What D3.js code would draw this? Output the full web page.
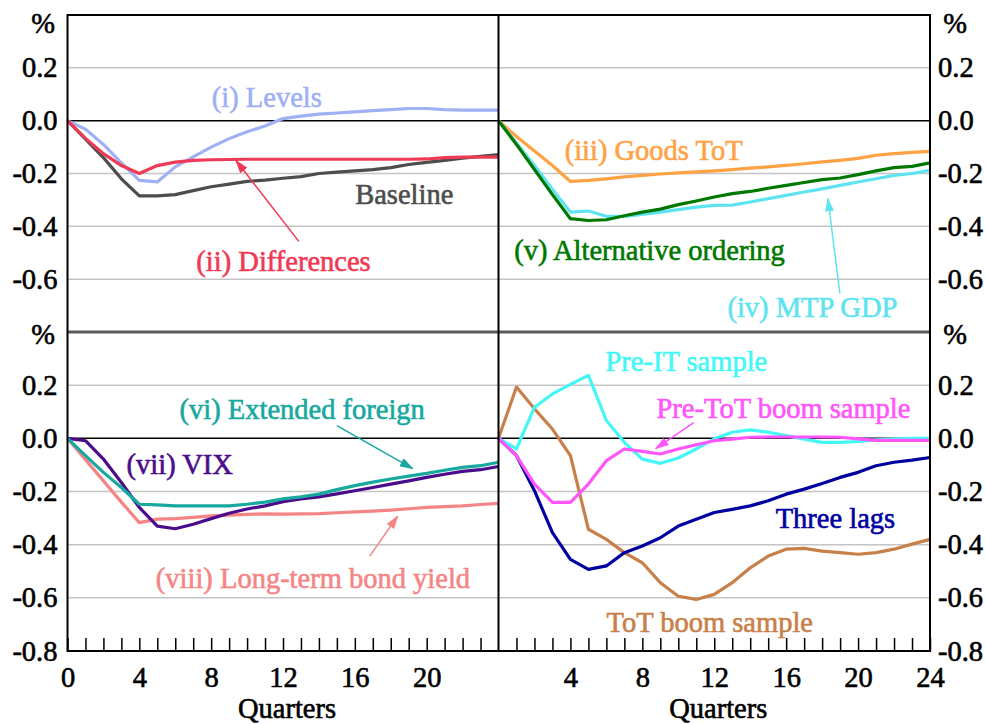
<!DOCTYPE html>
<meta charset="utf-8">
<style>
 body {
     margin: 0;
     background: #fff;
 }
 text {
     font-family: 'Liberation Serif', 'Times New Roman', serif;
     stroke-width: 0.6px;
     paint-order: stroke;
 }
</style>
<body>
<script src="https://cdn.jsdelivr.net/npm/d3@7"></script>
<script>

 // quarters after the shock
 var quarters = [0, 1, 2, 3, 4, 5, 6, 7, 8, 9, 10, 11, 12, 13, 14, 15, 16, 17, 18, 19, 20, 21, 22, 23, 24];

 // top left panel
 var baseline    = [0, -0.07, -0.14, -0.22, -0.285, -0.285, -0.28, -0.265, -0.25, -0.24, -0.23, -0.225, -0.218, -0.212, -0.2, -0.195, -0.19, -0.185, -0.178, -0.166, -0.158, -0.15, -0.142, -0.135, -0.128];
 var levels      = [0, -0.032, -0.09, -0.16, -0.226, -0.232, -0.175, -0.137, -0.1, -0.068, -0.042, -0.02, 0.008, 0.017, 0.025, 0.029, 0.033, 0.038, 0.042, 0.046, 0.046, 0.042, 0.04, 0.04, 0.04];
 var differences = [0, -0.067, -0.125, -0.17, -0.2, -0.17, -0.157, -0.15, -0.148, -0.147, -0.146, -0.146, -0.146, -0.146, -0.146, -0.146, -0.146, -0.146, -0.146, -0.146, -0.145, -0.14, -0.138, -0.138, -0.138];

 // top right panel
 var goodsTot    = [0, -0.06, -0.115, -0.17, -0.23, -0.226, -0.22, -0.213, -0.207, -0.202, -0.198, -0.194, -0.19, -0.185, -0.18, -0.175, -0.169, -0.163, -0.156, -0.15, -0.143, -0.131, -0.125, -0.12, -0.116];
 var mtpGdp      = [0, -0.085, -0.17, -0.26, -0.346, -0.342, -0.362, -0.362, -0.355, -0.346, -0.337, -0.327, -0.321, -0.32, -0.308, -0.295, -0.283, -0.27, -0.258, -0.245, -0.232, -0.22, -0.207, -0.2, -0.188];
 var altOrdering = [0, -0.09, -0.185, -0.28, -0.371, -0.378, -0.375, -0.36, -0.346, -0.335, -0.318, -0.304, -0.289, -0.276, -0.268, -0.256, -0.245, -0.234, -0.223, -0.217, -0.204, -0.19, -0.178, -0.173, -0.16];

 // bottom left panel
 var extForeign  = [0, -0.065, -0.128, -0.185, -0.248, -0.25, -0.254, -0.254, -0.254, -0.254, -0.248, -0.24, -0.228, -0.22, -0.21, -0.193, -0.178, -0.165, -0.153, -0.142, -0.132, -0.12, -0.109, -0.103, -0.09];
 var vix         = [0, -0.009, -0.078, -0.166, -0.26, -0.33, -0.34, -0.323, -0.302, -0.282, -0.266, -0.254, -0.238, -0.228, -0.22, -0.209, -0.197, -0.185, -0.172, -0.16, -0.147, -0.135, -0.124, -0.118, -0.106];
 var bondYield   = [0, -0.08, -0.16, -0.24, -0.317, -0.304, -0.302, -0.297, -0.292, -0.289, -0.286, -0.284, -0.285, -0.284, -0.283, -0.28, -0.277, -0.274, -0.27, -0.265, -0.26, -0.257, -0.254, -0.249, -0.245];

 // bottom right panel
 var preIT       = [0, -0.04, 0.117, 0.167, 0.203, 0.237, 0.067, -0.015, -0.078, -0.094, -0.074, -0.04, -0.002, 0.023, 0.032, 0.023, 0.01, -0.003, -0.015, -0.015, -0.012, -0.006, -0.002, 0, 0];
 var preTotBoom  = [0, -0.065, -0.172, -0.241, -0.241, -0.172, -0.084, -0.04, -0.049, -0.059, -0.04, -0.024, -0.009, -0.003, 0.004, 0.005, 0.005, 0.005, 0.005, 0.004, -0.002, -0.008, -0.008, -0.008, -0.008];
 var threeLags   = [0, -0.065, -0.197, -0.355, -0.455, -0.493, -0.48, -0.43, -0.405, -0.374, -0.33, -0.304, -0.279, -0.267, -0.254, -0.235, -0.21, -0.191, -0.17, -0.147, -0.128, -0.103, -0.09, -0.082, -0.072];
 var totBoom     = [0, 0.193, 0.111, 0.035, -0.065, -0.342, -0.38, -0.43, -0.468, -0.543, -0.594, -0.606, -0.587, -0.543, -0.487, -0.443, -0.417, -0.414, -0.424, -0.43, -0.436, -0.43, -0.417, -0.398, -0.38];

 var topTicks = [0.2, 0, -0.2, -0.4, -0.6];
 var bottomTicks = [0.2, 0, -0.2, -0.4, -0.6, -0.8];
 var gridValues = [0.2, -0.2, -0.4, -0.6];

 var fontSize = "28.5px";
 var fontFamily = "'Liberation Serif', 'Times New Roman', serif";
 var plotLeft = 67.5, plotMid = 498.5, plotRight = 930,
     plotTop = 15, plotSep = 332, plotBottom = 651;

 var svg = d3.select("body").append("svg")
             .attr("width", 985)
             .attr("height", 724)
             .attr("font-family", fontFamily);

 var xLeft = d3.scaleLinear().domain([0, 24]).range([plotLeft, plotMid]);
 var xRight = d3.scaleLinear().domain([0, 24]).range([plotMid, plotRight]);
 var yTop = d3.scaleLinear().domain([-0.8, 0.4]).range([plotSep, plotTop]);
 var yBottom = d3.scaleLinear().domain([-0.8, 0.4]).range([plotBottom, plotSep]);

 var panels = [
     {x: xLeft, y: yTop, series: [
         {data: baseline, color: "#4d4d4d"},
         {data: levels, color: "#9fb0f4"},
         {data: differences, color: "#ef3a55"}]},
     {x: xRight, y: yTop, series: [
         {data: goodsTot, color: "#ffa244"},
         {data: mtpGdp, color: "#5ee4f0"},
         {data: altOrdering, color: "#007800"}]},
     {x: xLeft, y: yBottom, series: [
         {data: bondYield, color: "#f58585"},
         {data: vix, color: "#4b0c8c"},
         {data: extForeign, color: "#17a8a0"}]},
     {x: xRight, y: yBottom, series: [
         {data: totBoom, color: "#c8804a"},
         {data: threeLags, color: "#0000a0"},
         {data: preIT, color: "#44f6f6"},
         {data: preTotBoom, color: "#ff55fa"}]}
 ];

 // gridlines and zero lines
 panels.forEach(function(p) {
     var x0 = p.x.range()[0], x1 = p.x.range()[1];
     svg.append("g").selectAll("line")
        .data(gridValues)
        .enter().append("line")
        .attr("x1", x0).attr("x2", x1)
        .attr("y1", d => p.y(d)).attr("y2", d => p.y(d))
        .attr("stroke", "#c4c4c4")
        .attr("stroke-width", 1.5);
     svg.append("line")
        .attr("x1", x0).attr("x2", x1)
        .attr("y1", p.y(0)).attr("y2", p.y(0))
        .attr("stroke", "#000")
        .attr("stroke-width", 1.5);
 });

 // minor ticks + quarter labels on the bottom panels
 var axL = svg.append("g")
              .attr("transform", "translate(0," + plotBottom + ")")
              .call(d3.axisBottom(xLeft)
                      .tickValues(quarters.slice(0, 24))
                      .tickSizeInner(-13).tickSizeOuter(0).tickPadding(16)
                      .tickFormat(d => d % 4 == 0 ? d : ""));
 var axR = svg.append("g")
              .attr("transform", "translate(0," + plotBottom + ")")
              .call(d3.axisBottom(xRight)
                      .tickValues(quarters.slice(1))
                      .tickSizeInner(-13).tickSizeOuter(0).tickPadding(16)
                      .tickFormat(d => d % 4 == 0 ? d : ""));
 [axL, axR].forEach(function(g) {
     g.select(".domain").remove();
     g.selectAll(".tick line").attr("stroke", "#000").attr("stroke-width", 1.5);
     g.selectAll("text").attr("fill", "#000").attr("stroke", "#000");
     g.attr("font-family", fontFamily)
      .attr("font-size", fontSize);
 });

 // y axes, both sides
 function yAxis(scale, ticks, side) {
     var ax = side == "left" ? d3.axisLeft(scale) : d3.axisRight(scale);
     var g = svg.append("g")
                .attr("transform", "translate(" + (side == "left" ? plotLeft : plotRight) + ",0)")
                .call(ax.tickValues(ticks).tickSize(0)
                        .tickPadding(side == "left" ? 10 : 8)
                        .tickFormat(d => d.toFixed(1)));
     g.select(".domain").remove();
     g.selectAll("text").attr("fill", "#000").attr("stroke", "#000");
     g.attr("font-family", fontFamily)
      .attr("font-size", fontSize);
 }
 yAxis(yTop, topTicks, "left");
 yAxis(yTop, topTicks, "right");
 yAxis(yBottom, bottomTicks, "left");
 yAxis(yBottom, bottomTicks, "right");

 // % units
 [[43, 33], [955, 33], [43, 344], [955, 344]].forEach(function(p) {
     svg.append("text")
        .attr("x", p[0]).attr("y", p[1])
        .attr("text-anchor", "middle")
        .attr("font-size", fontSize)
        .attr("stroke", "#000")
        .text("%");
 });

 // Quarters titles
 [(plotLeft + plotMid) / 2 + 4, (plotMid + plotRight) / 2 + 4].forEach(function(cx) {
     svg.append("text")
        .attr("x", cx).attr("y", 718)
        .attr("text-anchor", "middle")
        .attr("font-size", fontSize)
        .attr("stroke", "#000")
        .text("Quarters");
 });

 // the lines
 panels.forEach(function(p) {
     var line = d3.line()
                  .x((d, i) => p.x(quarters[i]))
                  .y(d => p.y(d));
     p.series.forEach(function(s) {
         svg.append("path")
            .datum(s.data)
            .attr("fill", "none")
            .attr("stroke", s.color)
            .attr("stroke-width", 3.2)
            .attr("stroke-linejoin", "round")
            .attr("d", line);
     });
 });

 // frame
 svg.append("line")
    .attr("x1", plotLeft).attr("x2", plotRight).attr("y1", plotSep).attr("y2", plotSep)
    .attr("stroke", "#5a5a5a").attr("stroke-width", 3);
 svg.append("rect")
    .attr("x", plotLeft).attr("y", plotTop)
    .attr("width", plotRight - plotLeft).attr("height", plotBottom - plotTop)
    .attr("fill", "none")
    .attr("stroke", "#000")
    .attr("stroke-width", 2);
 svg.append("line")
    .attr("x1", plotMid).attr("x2", plotMid).attr("y1", plotTop).attr("y2", plotBottom)
    .attr("stroke", "#000").attr("stroke-width", 2);

 // series labels [text, colour, panel, quarter, value]
 var labels = [
     ["(i) Levels", "#9fb0f4", 0, 11.1, 0.051],
     ["Baseline", "#4d4d4d", 0, 18.75, -0.317],
     ["(ii) Differences", "#ef3a55", 0, 12.03, -0.568],
     ["(iii) Goods ToT", "#ffa244", 1, 8.63, -0.15],
     ["(v) Alternative ordering", "#007800", 1, 8.4, -0.529],
     ["(iv) MTP GDP", "#5ee4f0", 1, 17.46, -0.745],
     ["(vi) Extended foreign", "#17a8a0", 2, 13.07, 0.073],
     ["(vii) VIX", "#4b0c8c", 2, 6.25, -0.134],
     ["(viii) Long-term bond yield", "#f58585", 2, 13.67, -0.562],
     ["Pre-IT sample", "#44f6f6", 3, 10.45, 0.255],
     ["Pre-ToT boom sample", "#ff55fa", 3, 15.85, 0.077],
     ["Three lags", "#0000a0", 3, 18.74, -0.336],
     ["ToT boom sample", "#c8804a", 3, 11.75, -0.727]
 ];
 labels.forEach(function(l) {
     var p = panels[l[2]];
     svg.append("text")
        .attr("x", p.x(l[3])).attr("y", p.y(l[4]))
        .attr("text-anchor", "middle")
        .attr("font-size", fontSize)
        .attr("fill", l[1])
        .attr("stroke", l[1])
        .text(l[0]);
 });

 // pointer arrows [colour, panel, from q, from v, to q, to v]
 var arrows = [
     ["#ef3a55", 0, 12.88, -0.457, 9.37, -0.15],
     ["#5ee4f0", 1, 18.99, -0.655, 18.32, -0.294],
     ["#17a8a0", 2, 15.0, 0.048, 19.23, -0.114],
     ["#f58585", 2, 16.83, -0.443, 18.39, -0.292],
     ["#ff55fa", 3, 10.86, 0.059, 8.74, -0.039]
 ];
 var defs = svg.append("defs");
 arrows.forEach(function(a, i) {
     defs.append("marker")
         .attr("id", "head" + i)
         .attr("viewBox", "0 -5 14 10")
         .attr("refX", 13).attr("refY", 0)
         .attr("markerUnits", "userSpaceOnUse")
         .attr("markerWidth", 14).attr("markerHeight", 10)
         .attr("orient", "auto")
         .append("path")
         .attr("d", "M0,-4.5L14,0L0,4.5Z")
         .attr("fill", a[0]);
     var p = panels[a[1]];
     svg.append("line")
        .attr("x1", p.x(a[2])).attr("y1", p.y(a[3]))
        .attr("x2", p.x(a[4])).attr("y2", p.y(a[5]))
        .attr("stroke", a[0])
        .attr("stroke-width", 1.5)
        .attr("marker-end", "url(#head" + i + ")");
 });

</script>
</body>
